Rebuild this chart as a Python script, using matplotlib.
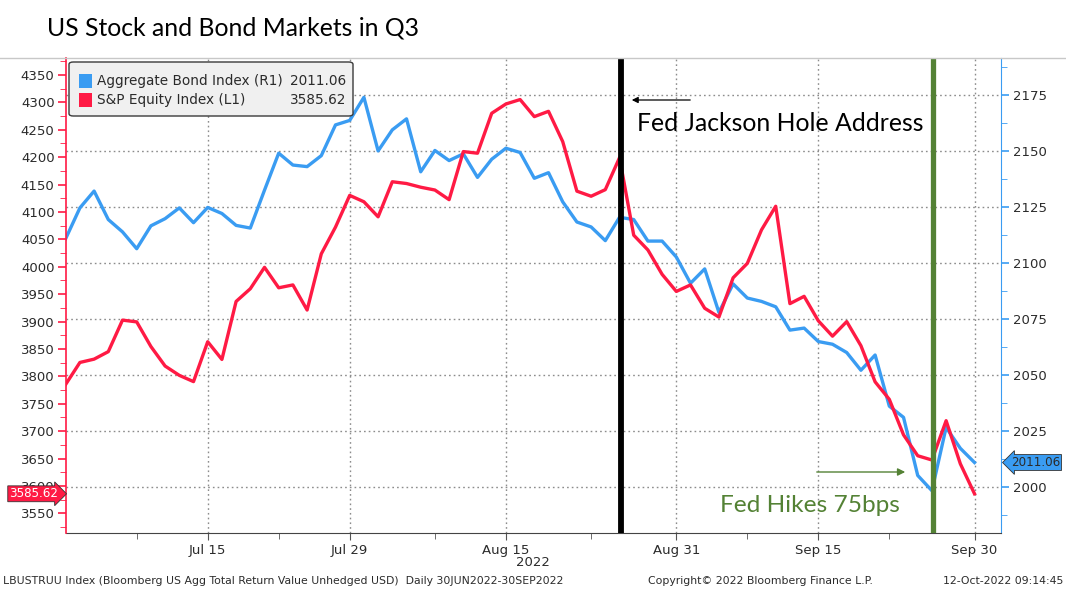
import matplotlib
matplotlib.use("Agg")
import matplotlib.pyplot as plt
import numpy as np
import pandas as pd
from matplotlib.lines import Line2D
from matplotlib.patches import FancyBboxPatch, Rectangle
from matplotlib.ticker import MultipleLocator, FixedLocator

# trading days of Q3 2022 (weekends and US holidays skipped, as Bloomberg does)
dates = pd.bdate_range("2022-06-30", "2022-09-30", freq="C",
                       holidays=["2022-07-04", "2022-09-05"])

spx = [3785.38, 3825.33, 3831.39, 3845.08, 3902.62, 3899.38, 3854.43, 3818.80, 3801.78, 3790.38,
       3863.16, 3830.85, 3936.69, 3959.90, 3998.95, 3961.63, 3966.84, 3921.05, 4023.61, 4072.43,
       4130.29, 4118.63, 4091.19, 4155.17, 4151.94, 4145.19, 4140.06, 4122.47, 4210.24, 4207.27,
       4280.15, 4297.14, 4305.20, 4274.04, 4283.74, 4228.48, 4137.99, 4128.73, 4140.77, 4199.12,
       4057.66, 4030.61, 3986.16, 3955.00, 3966.85, 3924.26, 3908.19, 3979.87, 4006.18, 4067.36,
       4110.41, 3932.69, 3946.01, 3901.35, 3873.33, 3899.89, 3855.93, 3789.93, 3757.99, 3693.23,
       3655.04, 3647.29, 3719.04, 3640.47, 3585.62]

agg = [2110.9, 2124.6, 2132.1, 2119.4, 2113.9, 2106.4, 2116.6, 2119.8, 2124.6, 2118.0,
       2124.8, 2122.1, 2116.8, 2115.6, 2132.5, 2149.0, 2143.7, 2143.0, 2147.9, 2161.6,
       2163.6, 2173.9, 2150.0, 2159.4, 2164.3, 2140.7, 2150.2, 2145.7, 2148.7, 2138.2,
       2146.3, 2151.2, 2149.3, 2137.8, 2140.3, 2127.3, 2118.3, 2116.1, 2110.0, 2120.4,
       2119.4, 2109.8, 2109.8, 2102.7, 2091.0, 2097.4, 2078.0, 2090.7, 2084.4, 2082.9,
       2080.5, 2070.1, 2071.0, 2065.0, 2063.8, 2060.1, 2052.2, 2059.0, 2036.2, 2031.2,
       2005.3, 1998.5, 2026.7, 2017.4, 2011.06]

major_days = ["2022-07-15", "2022-07-29", "2022-08-15", "2022-08-31", "2022-09-15", "2022-09-30"]
major_labels = ["Jul 15", "Jul 29", "Aug 15", "Aug 31", "Sep 15", "Sep 30"]
minor_days = ["2022-07-08", "2022-07-22", "2022-08-08", "2022-08-23", "2022-09-08", "2022-09-22"]

BLUE = "#3a9cf2"
RED = "#ff1a44"
GREEN = "#548235"
INK = "#2b2b2b"

W, H = 1066, 591
fig = plt.figure(figsize=(W / 100, H / 100), dpi=100)
L, R, T, B = 65.7, 1001.5, 58.3, 533.3
ax = fig.add_axes([L / W, 1 - B / H, (R - L) / W, (B - T) / H])
ax2 = ax.twinx()


def fx(px):
    return px / W


def fy(py):
    return 1 - py / H


pos = {d.strftime("%Y-%m-%d"): i for i, d in enumerate(dates)}
x = np.arange(len(dates))

# bond index on the base axes (right scale), equity on the twin (left scale)
ax.plot(x, agg, color=BLUE, lw=2.4, zorder=3, solid_joinstyle="round")
ax2.plot(x, spx, color=RED, lw=2.4, zorder=3, solid_joinstyle="round")

ax.set_xlim(0, 65.9)
ax.set_ylim(1979.5, 2191.3)
ax2.set_ylim(3513.5, 4380.5)

ax.yaxis.tick_right()
ax.set_yticks([2000, 2025, 2050, 2075, 2100, 2125, 2150, 2175])
ax.yaxis.set_minor_locator(MultipleLocator(12.5))
ax.tick_params(axis="y", which="major", colors=BLUE, labelcolor=INK,
               length=6, width=1.2, labelsize=9.5, pad=2)
ax.tick_params(axis="y", which="minor", colors=BLUE, length=4)

ax2.yaxis.tick_left()
ax2.yaxis.set_major_locator(MultipleLocator(50))
ax2.yaxis.set_minor_locator(MultipleLocator(25))
ax2.tick_params(axis="y", which="major", colors=RED, labelcolor=INK,
                length=6, width=1.2, labelsize=9.5, pad=2)
ax2.tick_params(axis="y", which="minor", colors=RED, length=4)

ax.xaxis.set_major_locator(FixedLocator([pos[d] for d in major_days]))
ax.set_xticklabels(major_labels)
ax.xaxis.set_minor_locator(FixedLocator([pos[d] for d in minor_days]))
ax.tick_params(axis="x", which="major", colors="#555555", labelcolor=INK,
               length=5, labelsize=9.5, pad=3)
ax.tick_params(axis="x", which="minor", colors="#555555", length=4)

ax.grid(True, which="major", color="#8c8c8c", linestyle=(0, (1.2, 2.2)), lw=1.0, zorder=0)

for a in (ax, ax2):
    a.spines["top"].set_visible(False)
ax.spines["left"].set_visible(False)
ax2.spines["right"].set_visible(False)
ax2.spines["bottom"].set_visible(False)
ax.spines["right"].set_color(BLUE)
ax2.spines["left"].set_color(RED)
ax2.spines["left"].set_linewidth(1.2)
ax.spines["bottom"].set_color("#444444")

fig.text(fx(533), fy(563), "2022", ha="center", va="center", fontsize=9.5, color=INK)

# event lines
ax2.axvline(39.1, color="black", lw=4.2, zorder=6)
ax2.axvline(61.1, color=GREEN, lw=3.8, zorder=6)

# value tags on both scales
ax2.text(-0.008, spx[-1], f"{spx[-1]:.2f}", transform=ax2.get_yaxis_transform(),
         ha="right", va="center", fontsize=8.6, color="white",
         bbox=dict(boxstyle="rarrow,pad=0.12", fc=RED, ec="#333333", lw=0.6),
         clip_on=False, zorder=8)
ax.text(1.01, agg[-1], f"{agg[-1]:.2f}", transform=ax.get_yaxis_transform(),
        ha="left", va="center", fontsize=8.6, color=INK,
        bbox=dict(boxstyle="larrow,pad=0.12", fc=BLUE, ec="#333333", lw=0.6),
        clip_on=False, zorder=8)

# legend box (Bloomberg style)
fig.patches.append(FancyBboxPatch((fx(69), fy(116)), fx(284), 54 / H,
                                  boxstyle="round,pad=0,rounding_size=0.004",
                                  transform=fig.transFigure, fc="#f0f0f0",
                                  ec="#3a3a3a", lw=1.0, zorder=10))
legend_rows = [("Aggregate Bond Index (R1)", f"{agg[-1]:.2f}", BLUE, 81),
               ("S&P Equity Index (L1)", f"{spx[-1]:.2f}", RED, 100)]
for name, val, col, yy in legend_rows:
    fig.patches.append(Rectangle((fx(79), fy(yy + 7)), fx(13), 14 / H,
                                 transform=fig.transFigure, fc=col, ec="none", zorder=11))
    fig.text(fx(97), fy(yy), name, ha="left", va="center", fontsize=9.8, color=INK, zorder=12)
    fig.text(fx(346), fy(yy), val, ha="right", va="center", fontsize=9.8, color=INK, zorder=12)

# title and annotations
fig.text(fx(47), fy(28), "US Stock and Bond Markets in Q3", ha="left", va="center",
         fontsize=17.8, family="Lato", color="black")
fig.text(fx(637), fy(123), "Fed Jackson Hole Address", ha="left", va="center",
         fontsize=17.8, family="Lato", color="black", zorder=12)
fig.text(fx(720), fy(505), "Fed Hikes 75bps", ha="left", va="center",
         fontsize=17.6, family="Lato", color=GREEN, zorder=12)
fig.add_artist(matplotlib.patches.FancyArrowPatch(
    (fx(693), fy(100)), (fx(629), fy(100)), transform=fig.transFigure,
    arrowstyle="-|>", mutation_scale=9, color="black", lw=0.9, zorder=12))
fig.add_artist(matplotlib.patches.FancyArrowPatch(
    (fx(814), fy(472)), (fx(908), fy(472)), transform=fig.transFigure,
    arrowstyle="-|>", mutation_scale=11, color=GREEN, lw=1.0, zorder=12))

# top rule across the whole chart
fig.add_artist(Line2D([0, 1], [fy(T), fy(T)], transform=fig.transFigure,
                      color="#c8c8c8", lw=1.0))

# footer
fig.text(fx(3), fy(581), "LBUSTRUU Index (Bloomberg US Agg Total Return Value Unhedged USD)  Daily 30JUN2022-30SEP2022",
         ha="left", va="center", fontsize=7.8, color=INK)
fig.text(fx(648), fy(581), "Copyright\u00a9 2022 Bloomberg Finance L.P.",
         ha="left", va="center", fontsize=7.8, color=INK)
fig.text(fx(1063), fy(581), "12-Oct-2022 09:14:45",
         ha="right", va="center", fontsize=7.8, color=INK)

fig.savefig("out.png", dpi=100, facecolor="white")
